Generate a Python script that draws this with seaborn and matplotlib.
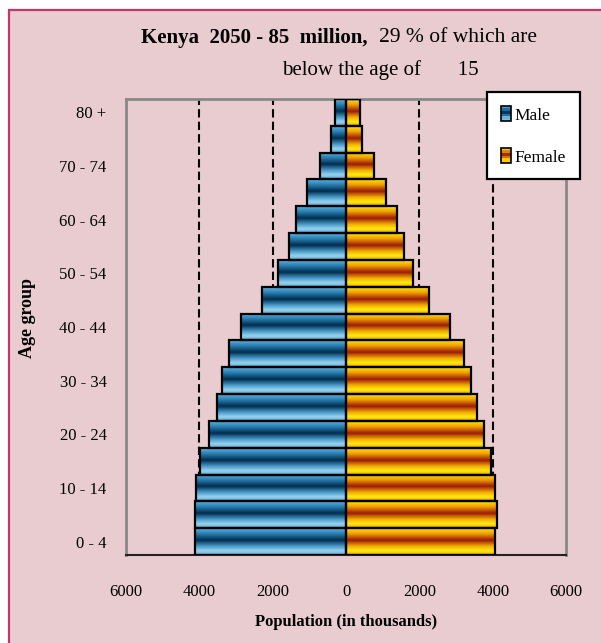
import numpy as np
import pandas as pd
import seaborn as sns
import matplotlib.pyplot as plt
from matplotlib.colors import LinearSegmentedColormap
from matplotlib.patches import Rectangle
from matplotlib.legend_handler import HandlerBase
from matplotlib.ticker import FuncFormatter

# age groups, oldest first (top of the pyramid)
age_groups = ["80 +", "75 - 79", "70 - 74", "65 - 69", "60 - 64", "55 - 59", "50 - 54",
              "45 - 49", "40 - 44", "35 - 39", "30 - 34", "25 - 29", "20 - 24",
              "15 - 19", "10 - 14", "5 - 9", "0 - 4"]
# population in thousands
male = [300, 410, 710, 1070, 1370, 1550, 1860, 2300, 2860, 3190, 3370, 3530,
        3750, 3970, 4090, 4120, 4120]
female = [370, 440, 750, 1090, 1380, 1580, 1840, 2270, 2840, 3220, 3400, 3580,
          3760, 3950, 4070, 4110, 4060]
shown_ticks = ["80 +", "70 - 74", "60 - 64", "50 - 54", "40 - 44", "30 - 34",
               "20 - 24", "10 - 14", "0 - 4"]

df = pd.DataFrame({"age": age_groups, "Male": [-v for v in male], "Female": female})

blue_cmap = LinearSegmentedColormap.from_list("blue", [
    (0.0, "#5AB4E4"), (0.2, "#2A7FB0"), (0.45, "#002D4F"),
    (0.68, "#4A9CCB"), (0.85, "#9AD2EE"), (1.0, "#5AA8D4")])
gold_cmap = LinearSegmentedColormap.from_list("gold", [
    (0.0, "#FFE800"), (0.2, "#F0A000"), (0.45, "#9C1A0A"),
    (0.68, "#F2B000"), (0.85, "#FFEC10"), (1.0, "#E8A000")])
bg = "#E8CCCF"

sns.set_style("white")
plt.rcParams["font.family"] = ["Liberation Serif", "DejaVu Serif"]
for key in ["text.color", "axes.labelcolor", "xtick.color", "ytick.color"]:
    plt.rcParams[key] = "black"

fig = plt.figure(figsize=(6.01, 6.43), dpi=100, facecolor="white")
fig.patches.append(Rectangle((0.015, -0.1), 1.2, 0.9844 + 0.1, transform=fig.transFigure,
                             facecolor=bg, edgecolor="#C8346A", linewidth=1.6, zorder=-10))
ax = fig.add_axes([0.2097, 0.1369, 0.7321, 0.7091])
ax.set_facecolor(bg)

sns.barplot(data=df, y="age", x="Male", order=age_groups, orient="h", width=1.0,
            color="#1F6A99", edgecolor="black", linewidth=1.6, ax=ax, zorder=3)
n_male = len(ax.patches)
sns.barplot(data=df, y="age", x="Female", order=age_groups, orient="h", width=1.0,
            color="#E8A000", edgecolor="black", linewidth=1.6, ax=ax, zorder=3)

xlim = (-6000, 6000)
ylim = ax.get_ylim()
grad = np.linspace(0, 1, 64).reshape(-1, 1)
for i, p in enumerate(ax.patches):
    cmap = blue_cmap if i < n_male else gold_cmap
    x0, y0 = p.get_x(), p.get_y()
    w, h = p.get_width(), p.get_height()
    im = ax.imshow(grad, cmap=cmap, aspect="auto", origin="upper",
                   extent=(x0, x0 + w, y0 + h, y0), zorder=2, interpolation="bilinear")
    im.set_clip_path(p)
    p.set_facecolor("none")
ax.set_aspect("auto")
ax.set_xlim(*xlim)
ax.set_ylim(*ylim)

for v in [-4000, -2000, 2000, 4000]:
    ax.axvline(v, color="black", linewidth=1.5, dashes=(4, 2), zorder=1)

for side in ["left", "right"]:
    ax.spines[side].set_color("#888888")
    ax.spines[side].set_linewidth(2)
    ax.spines[side].set_linestyle((0, (6, 1)))
ax.spines["top"].set_color("#888888")
ax.spines["top"].set_linewidth(2)
ax.spines["bottom"].set_color("#222222")
ax.spines["bottom"].set_linewidth(1.5)

ax.set_xticks([-6000, -4000, -2000, 0, 2000, 4000, 6000])
ax.xaxis.set_major_formatter(FuncFormatter(lambda v, _: f"{abs(int(v))}"))
ax.set_yticks([age_groups.index(t) for t in shown_ticks])
ax.set_yticklabels(shown_ticks)
ax.tick_params(axis="x", length=0, pad=21, labelsize=12)
ax.tick_params(axis="y", length=0, pad=14, labelsize=12)
ax.set_xlabel("")
ax.set_ylabel("")

fig.text(0.5757, 0.0325, "Population (in thousands)", ha="center", va="center",
         fontsize=12, fontweight="bold")
fig.text(0.045, 0.505, "Age group", ha="center", va="center", rotation=90,
         fontsize=13, fontweight="bold")

fig.text(0.612, 0.941, "Kenya  2050 - 85  million,", ha="right", va="center",
         fontsize=15, fontweight="bold")
fig.text(0.630, 0.941, "29 % of which are", ha="left", va="center", fontsize=15.5)
fig.text(0.632, 0.891, "below the age of       15", ha="center", va="center", fontsize=15)


class GradHandle:
    def __init__(self, cmap):
        self.cmap = cmap


class GradHandler(HandlerBase):
    def create_artists(self, legend, orig_handle, xdescent, ydescent, width, height,
                       fontsize, trans):
        n = 6
        arts = []
        for k in range(n):
            c = orig_handle.cmap((k + 0.5) / n)
            arts.append(Rectangle((-xdescent, -ydescent + height * (n - 1 - k) / n),
                                  width, height / n, facecolor=c, edgecolor="none",
                                  transform=trans))
        arts.append(Rectangle((-xdescent, -ydescent), width, height, facecolor="none",
                              edgecolor="black", linewidth=1.2, transform=trans))
        return arts


handles = [GradHandle(blue_cmap), GradHandle(gold_cmap)]
leg = fig.legend(handles, ["Male", "Female"], handler_map={GradHandle: GradHandler()},
                 loc="upper left", bbox_to_anchor=(0.810, 0.857), fontsize=12.5,
                 handlelength=0.6, handleheight=1.0, handletextpad=0.2,
                 labelspacing=1.4, borderpad=0.8, fancybox=False, framealpha=1,
                 edgecolor="black", facecolor="white", borderaxespad=0)
leg.get_frame().set_linewidth(1.6)

fig.savefig("out.png", dpi=100, facecolor=fig.get_facecolor())
